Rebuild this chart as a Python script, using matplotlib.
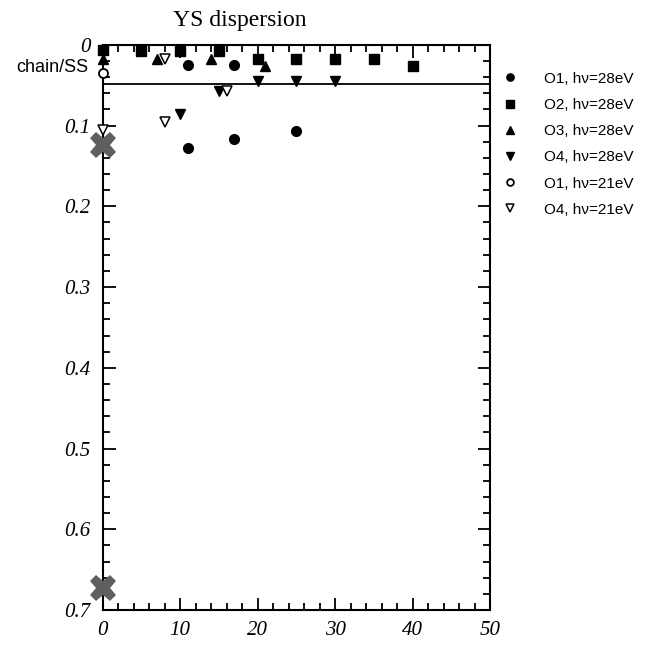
import matplotlib
matplotlib.use("Agg")
import matplotlib.pyplot as plt
from matplotlib.ticker import MultipleLocator

# data
o1_28_x = [11, 17, 11, 17, 25]
o1_28_y = [0.025, 0.025, 0.128, 0.117, 0.107]
o2_28_x = [0, 5, 10, 15, 20, 25, 30, 35, 40]
o2_28_y = [0.006, 0.007, 0.007, 0.007, 0.017, 0.017, 0.017, 0.017, 0.026]
o3_28_x = [0, 7, 14, 21]
o3_28_y = [0.017, 0.018, 0.018, 0.026]
o4_28_x = [10, 15, 20, 25, 30]
o4_28_y = [0.086, 0.057, 0.045, 0.045, 0.045]
o1_21_x = [0]
o1_21_y = [0.035]
o4_21_x = [0, 8, 8, 16]
o4_21_y = [0.105, 0.018, 0.095, 0.057]
cross_x = [0, 0]
cross_y = [0.124, 0.673]
chain_ss = 0.048

fig = plt.figure(figsize=(6.5, 6.5), dpi=100)
ax = fig.add_axes([0.158, 0.0615, 0.596, 0.8695])

ms = 7
ax.plot(o1_28_x, o1_28_y, 'o', color='black', ms=ms, ls='none', label='O1, hν=28eV', clip_on=False)
ax.plot(o2_28_x, o2_28_y, 's', color='black', ms=ms, ls='none', label='O2, hν=28eV', clip_on=False)
ax.plot(o3_28_x, o3_28_y, '^', color='black', ms=ms, ls='none', label='O3, hν=28eV', clip_on=False)
ax.plot(o4_28_x, o4_28_y, 'v', color='black', ms=ms, ls='none', label='O4, hν=28eV', clip_on=False)
ax.plot(o1_21_x, o1_21_y, 'o', mfc='white', mec='black', mew=1.3, ms=6.5, ls='none', label='O1, hν=21eV', clip_on=False, zorder=4)
ax.plot(o4_21_x, o4_21_y, 'v', mfc='white', mec='black', mew=1.1, ms=7, ls='none', label='O4, hν=21eV', clip_on=False, zorder=4)
ax.plot(cross_x, cross_y, 'X', color='#5f5f5f', ms=19, mew=0, ls='none', clip_on=False, zorder=5)

ax.axhline(chain_ss, color='black', lw=1.3)
ax.text(-1.8, 0.028, 'chain/SS', ha='right', va='center', fontsize=13, family='Liberation Sans')

ax.set_xlim(0, 50)
ax.set_ylim(0.7, 0)
ax.xaxis.set_major_locator(MultipleLocator(10))
ax.xaxis.set_minor_locator(MultipleLocator(2))
ax.yaxis.set_major_locator(MultipleLocator(0.1))
ax.yaxis.set_minor_locator(MultipleLocator(0.02))
ax.yaxis.set_major_formatter(plt.FuncFormatter(lambda v, p: '0' if abs(v) < 1e-9 else '%.1f' % v))

ax.tick_params(which='both', direction='in', top=True, right=True, width=1.3)
ax.tick_params(which='major', length=9)
ax.tick_params(which='minor', length=5)
ax.tick_params(axis='y', which='major', pad=9)
ax.tick_params(axis='x', which='major', pad=8)
for lab in ax.get_xticklabels() + ax.get_yticklabels():
    lab.set_family('Liberation Serif')
    lab.set_style('italic')
    lab.set_fontsize(15)
for s in ax.spines.values():
    s.set_linewidth(1.5)

leg = ax.legend(loc='upper left', bbox_to_anchor=(0.985, 0.985), frameon=False,
                prop={'family': 'Liberation Sans', 'size': 11}, markerscale=0.75,
                handlelength=1.0, handletextpad=1.7, labelspacing=0.8, borderaxespad=0.8)

fig.text(0.369, 0.968, 'YS dispersion', ha='center', va='center', fontsize=17, family='Liberation Serif')

fig.savefig('out.png', dpi=100)
